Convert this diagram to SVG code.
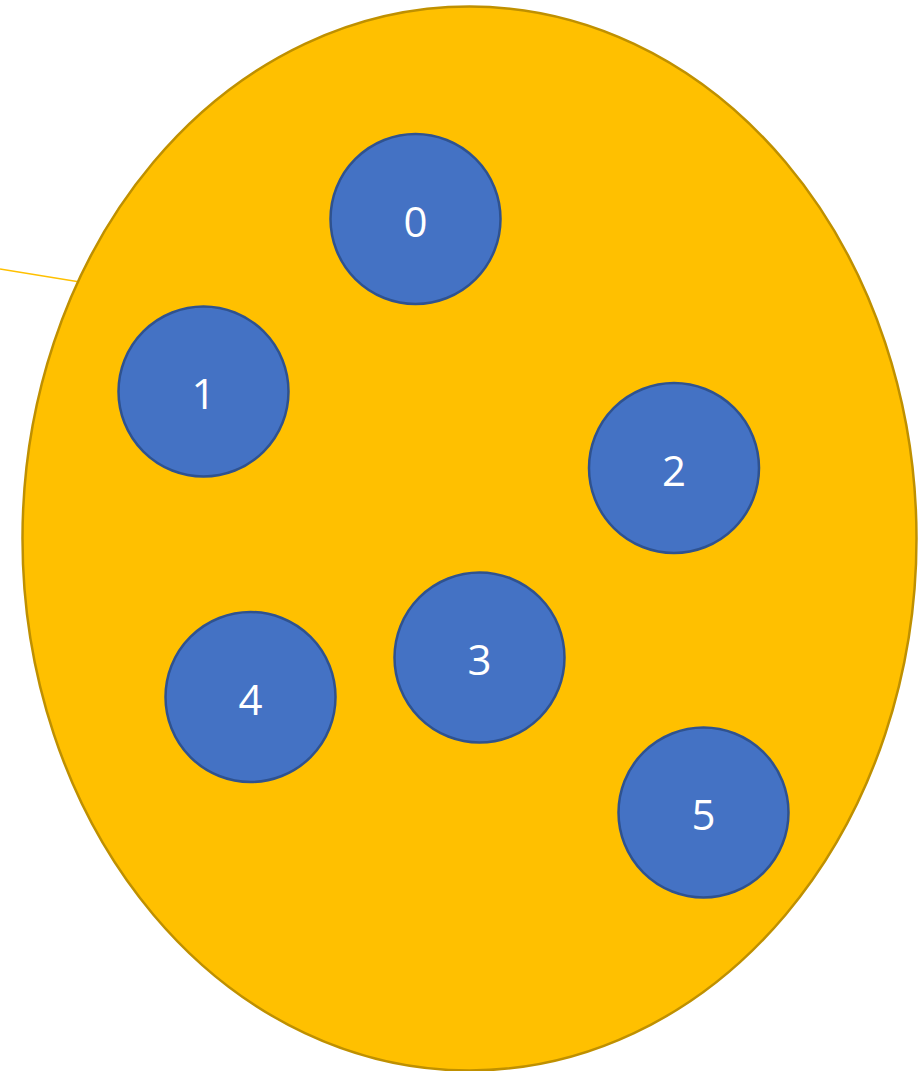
<svg xmlns="http://www.w3.org/2000/svg" width="922" height="1071" viewBox="0 0 922 1071">
<style>
.n circle{fill:#4472C4;stroke:#2F528F;stroke-width:2.5}
.n text{fill:#fff;font-family:"Open Sans","Liberation Sans",sans-serif;font-size:42px;text-anchor:middle;dominant-baseline:central}
</style>
<rect width="922" height="1071" fill="#fff"/>
<g id="connectors">
<line x1="0" y1="269" x2="80" y2="282" stroke="#FFC000" stroke-width="1.5"/>
</g>
<g id="set">
<ellipse cx="469.5" cy="538.5" rx="447" ry="532" fill="#FFC000" stroke="#BF9000" stroke-width="2.5"/>
</g>
<g id="node0" class="n"><circle cx="415.5" cy="219" r="85"/><text x="415.5" y="220">0</text></g>
<g id="node1" class="n"><circle cx="203.5" cy="391.5" r="85"/><text x="203.5" y="392.5">1</text></g>
<g id="node2" class="n"><circle cx="674" cy="468" r="85"/><text x="674" y="469">2</text></g>
<g id="node3" class="n"><circle cx="479.5" cy="657.5" r="85"/><text x="479.5" y="658.5">3</text></g>
<g id="node4" class="n"><circle cx="250.5" cy="697" r="85"/><text x="250.5" y="698">4</text></g>
<g id="node5" class="n"><circle cx="703.5" cy="812.5" r="85"/><text x="703.5" y="813.5">5</text></g>
</svg>
